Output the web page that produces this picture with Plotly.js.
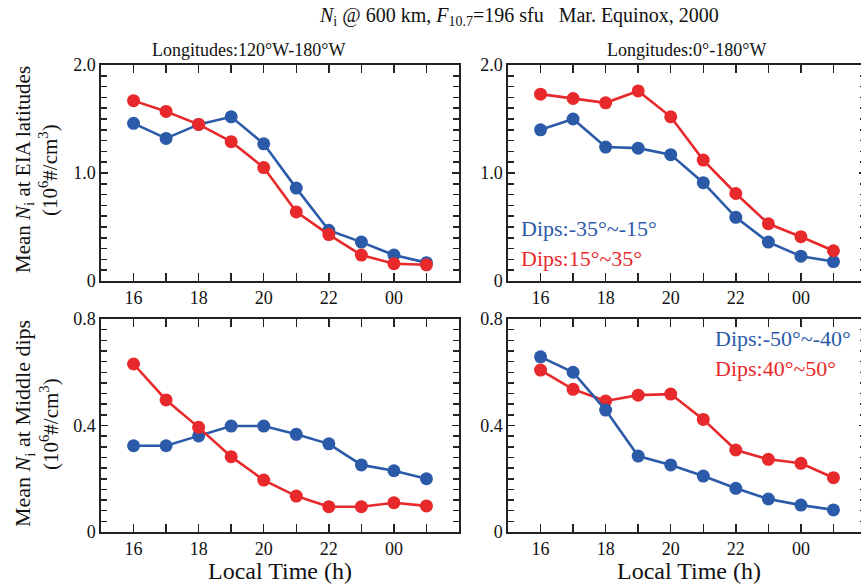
<!DOCTYPE html>
<html>
<head>
<meta charset="utf-8">
<script src="https://cdn.plot.ly/plotly-3.0.1.min.js"></script>
<style>
  html, body { margin: 0; padding: 0; overflow: hidden; background: #fff; }
  #chart { width: 870px; height: 584px; }
</style>
</head>
<body>
<div id="chart"></div>
<script>
// Local time in hours (00 and 01 drawn as 24 and 25 on a continuous axis)
const localTime = [16, 17, 18, 19, 20, 21, 22, 23, 24, 25];
const timeTickVals = [16, 18, 20, 22, 24];
const timeTickText = ['16', '18', '20', '22', '00'];

// Mean Ni at EIA latitudes (10^6 #/cm^3)
const eiaWestSouth = [1.46, 1.32, 1.45, 1.52, 1.27, 0.86, 0.47, 0.36, 0.24, 0.17];
const eiaWestNorth = [1.67, 1.57, 1.45, 1.29, 1.05, 0.64, 0.43, 0.24, 0.16, 0.15];
const eiaEastSouth = [1.40, 1.50, 1.24, 1.23, 1.17, 0.91, 0.59, 0.36, 0.23, 0.18];
const eiaEastNorth = [1.73, 1.69, 1.65, 1.76, 1.52, 1.12, 0.81, 0.53, 0.41, 0.28];

// Mean Ni at middle dips (10^6 #/cm^3)
const midWestSouth = [0.324, 0.324, 0.361, 0.398, 0.398, 0.367, 0.331, 0.252, 0.230, 0.200];
const midWestNorth = [0.631, 0.496, 0.393, 0.283, 0.195, 0.135, 0.095, 0.095, 0.110, 0.098];
const midEastSouth = [0.658, 0.600, 0.458, 0.285, 0.252, 0.210, 0.164, 0.124, 0.101, 0.083];
const midEastNorth = [0.608, 0.536, 0.492, 0.514, 0.518, 0.423, 0.308, 0.273, 0.258, 0.204];

const eiaTickVals = [0, 1, 2];
const eiaTickText = ['0', '1.0', '2.0'];
const midTickVals = [0, 0.4, 0.8];
const midTickText = ['0', '0.4', '0.8'];

const BLUE = '#2b5aa9';
const RED = '#e8292b';
const FONT = 'Liberation Serif';
const AXIS = '#222';

function series(y, color, xa, ya) {
  return {
    x: localTime, y: y, xaxis: xa, yaxis: ya,
    type: 'scatter', mode: 'lines+markers',
    line: { color: color, width: 2.6 },
    marker: { color: color, size: 13 },
    showlegend: false, hoverinfo: 'x+y'
  };
}

const traces = [
  series(eiaWestSouth, BLUE, 'x', 'y'),
  series(eiaWestNorth, RED, 'x', 'y'),
  series(eiaEastSouth, BLUE, 'x2', 'y2'),
  series(eiaEastNorth, RED, 'x2', 'y2'),
  series(midWestSouth, BLUE, 'x3', 'y3'),
  series(midWestNorth, RED, 'x3', 'y3'),
  series(midEastNorth, RED, 'x4', 'y4'),
  series(midEastSouth, BLUE, 'x4', 'y4')
];

const W = 870, H = 584;
const px = v => v / W;
const py = v => 1 - v / H;

function xAxis(domain, anchor) {
  return {
    domain: domain, anchor: anchor, range: [15, 26],
    tickmode: 'array', tickvals: timeTickVals, ticktext: timeTickText,
    ticks: 'inside', ticklen: 8, tickwidth: 1.5, tickcolor: AXIS,
    minor: { dtick: 1, tick0: 15, ticks: 'inside', ticklen: 8, tickwidth: 1.5, tickcolor: AXIS, showgrid: false },
    showline: true, linecolor: AXIS, linewidth: 1.6, mirror: 'ticks',
    showgrid: false, zeroline: false,
    tickfont: { family: FONT, size: 18, color: '#111' }
  };
}

function yAxis(domain, anchor, range, vals, text, minorStep) {
  return {
    domain: domain, anchor: anchor, range: range,
    tickmode: 'array', tickvals: vals, ticktext: text,
    ticks: 'inside', ticklen: 7, tickwidth: 1.5, tickcolor: AXIS,
    minor: { dtick: minorStep, tick0: 0, ticks: 'inside', ticklen: 6, tickwidth: 1.5, tickcolor: AXIS, showgrid: false },
    showline: true, linecolor: AXIS, linewidth: 1.6, mirror: 'ticks',
    showgrid: false, zeroline: false,
    tickfont: { family: FONT, size: 18, color: '#111' }
  };
}

const xLeft = [px(101), px(459)];
const xRight = [px(508), px(866)];
const yTop = [py(281), py(65)];
const yBottom = [py(532), py(319)];

function txt(text, x, y, size, opts) {
  return Object.assign({
    text: text, x: x, y: y, xref: 'paper', yref: 'paper',
    showarrow: false, xanchor: 'center', yanchor: 'middle',
    font: { family: FONT, size: size, color: '#111' }
  }, opts || {});
}

const annotations = [
  txt('<i>N</i><sub>i</sub> @ 600 km, <i>F</i><sub>10.7</sub>=196 sfu\u00a0\u00a0\u00a0Mar. Equinox, 2000', px(519), py(17), 20),
  txt('Longitudes:120°W-180°W', px(248), py(50), 18),
  txt('Longitudes:0°-180°W', px(686), py(50), 18),
  txt('Mean <i>N</i><sub>i</sub> at EIA latitudes', px(24), py(170), 21, { textangle: -90 }),
  txt('(10<sup>6</sup>#/cm<sup>3</sup>)', px(49), py(170), 21, { textangle: -90 }),
  txt('Mean <i>N</i><sub>i</sub> at Middle dips', px(24), py(424), 22, { textangle: -90 }),
  txt('(10<sup>6</sup>#/cm<sup>3</sup>)', px(49), py(424), 21, { textangle: -90 }),
  txt('Local Time (h)', px(280), py(571), 24),
  txt('Local Time (h)', px(689), py(571), 24),
  txt('Dips:-35°~-15°', px(519), py(228), 22, { xanchor: 'left', font: { family: FONT, size: 22, color: BLUE } }),
  txt('Dips:15°~35°', px(519), py(258), 22, { xanchor: 'left', font: { family: FONT, size: 22, color: RED } }),
  txt('Dips:-50°~-40°', px(713), py(338), 22, { xanchor: 'left', font: { family: FONT, size: 22, color: BLUE } }),
  txt('Dips:40°~50°', px(713), py(368), 22, { xanchor: 'left', font: { family: FONT, size: 22, color: RED } })
];

const layout = {
  width: W, height: H,
  margin: { l: 0, r: 0, t: 0, b: 0 },
  paper_bgcolor: '#fff', plot_bgcolor: '#fff',
  font: { family: FONT, size: 18, color: '#111' },
  showlegend: false,
  xaxis: xAxis(xLeft, 'y'),
  yaxis: yAxis(yTop, 'x', [0, 2], eiaTickVals, eiaTickText, 0.1),
  xaxis2: xAxis(xRight, 'y2'),
  yaxis2: yAxis(yTop, 'x2', [0, 2], eiaTickVals, eiaTickText, 0.1),
  xaxis3: xAxis(xLeft, 'y3'),
  yaxis3: yAxis(yBottom, 'x3', [0, 0.8], midTickVals, midTickText, 0.04),
  xaxis4: xAxis(xRight, 'y4'),
  yaxis4: yAxis(yBottom, 'x4', [0, 0.8], midTickVals, midTickText, 0.04),
  annotations: annotations
};

Plotly.newPlot('chart', traces, layout, { displayModeBar: false, staticPlot: true });
</script>
</body>
</html>
